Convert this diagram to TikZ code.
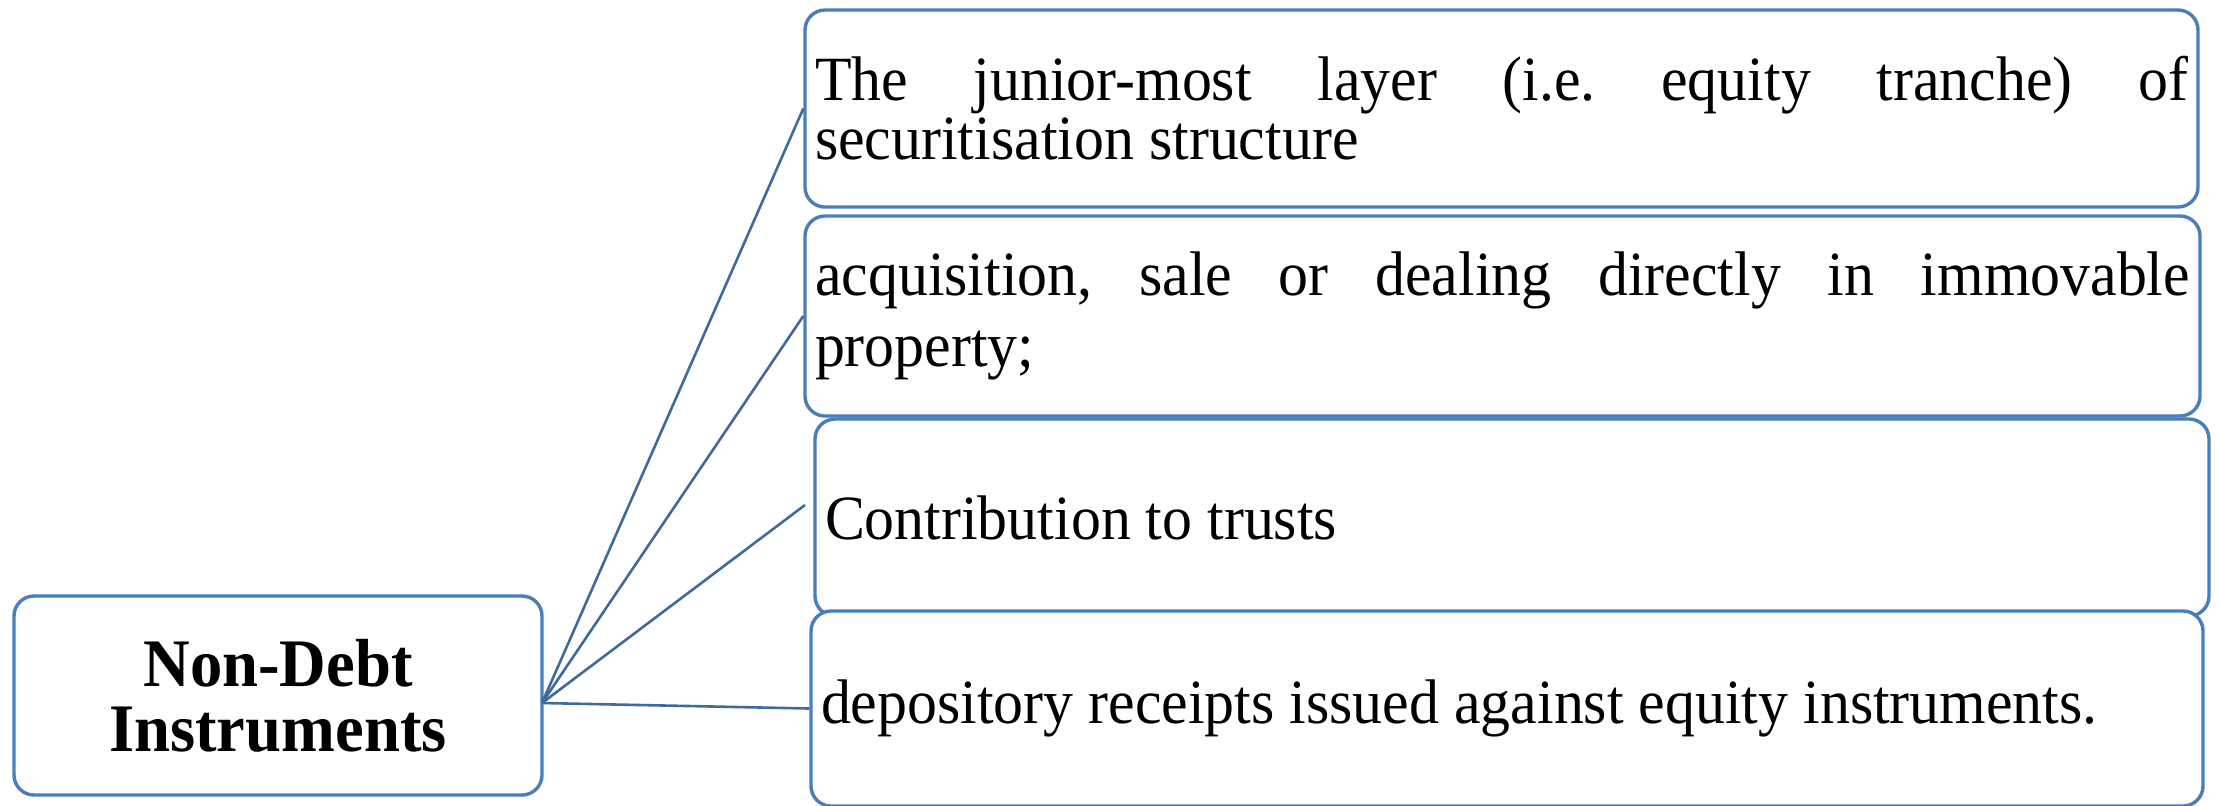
\documentclass[tikz,border=0pt]{standalone}
\usepackage{fontspec}
\setmainfont{Liberation Serif}[FakeStretch=0.95]
\definecolor{bordblue}{HTML}{4A7EBB}
\definecolor{lineblue}{HTML}{3F6A9E}
\begin{document}
\begin{tikzpicture}[x=0.5pt,y=-0.5pt,
  box/.style={draw=bordblue, line width=1.7pt, fill=white, rounded corners=10pt,
    inner xsep=5pt, inner ysep=0pt, align=justify},
  link/.style={draw=lineblue, line width=1.3pt}]
\useasboundingbox (0,0) rectangle (2219,805);
\hyphenpenalty=10000
\frenchspacing
\node[box, text width=686.5pt, minimum height=98.5pt,
  font=\fontsize{31.5}{29.5}\selectfont\frenchspacing] (b1) at (1501.5,108.5)
  {The junior-most layer (i.e. equity tranche) of\linebreak securitisation structure};
\node[box, text width=687.5pt, minimum height=100pt,
  font=\fontsize{31.5}{35.5}\selectfont] (b2) at (1502.5,316)
  {acquisition, sale or dealing directly in immovable\linebreak property;};
\node[box, text width=687pt, minimum height=98.5pt,
  font=\fontsize{31.5}{35.5}\selectfont] (b3) at (1512,517.5)
  {Contribution to trusts};
\node[box, text width=686pt, minimum height=97.5pt,
  font=\fontsize{31.5}{35.5}\selectfont] (b4) at (1507,708.5)
  {depository receipts issued against equity instruments.};
\node[box, align=center, minimum width=264pt, minimum height=99.5pt,
  font=\bfseries\fontsize{34}{32.5}\selectfont] (root) at (278,695.5)
  {Non-Debt\\Instruments};
\coordinate (hub) at (542,703);
\coordinate (e3) at (805,505);
\draw[link] (hub) -- (b1.west);
\draw[link] (hub) -- (b2.west);
\draw[link] (hub) -- (e3);
\draw[link] (hub) -- (b4.west);
\end{tikzpicture}
\end{document}
